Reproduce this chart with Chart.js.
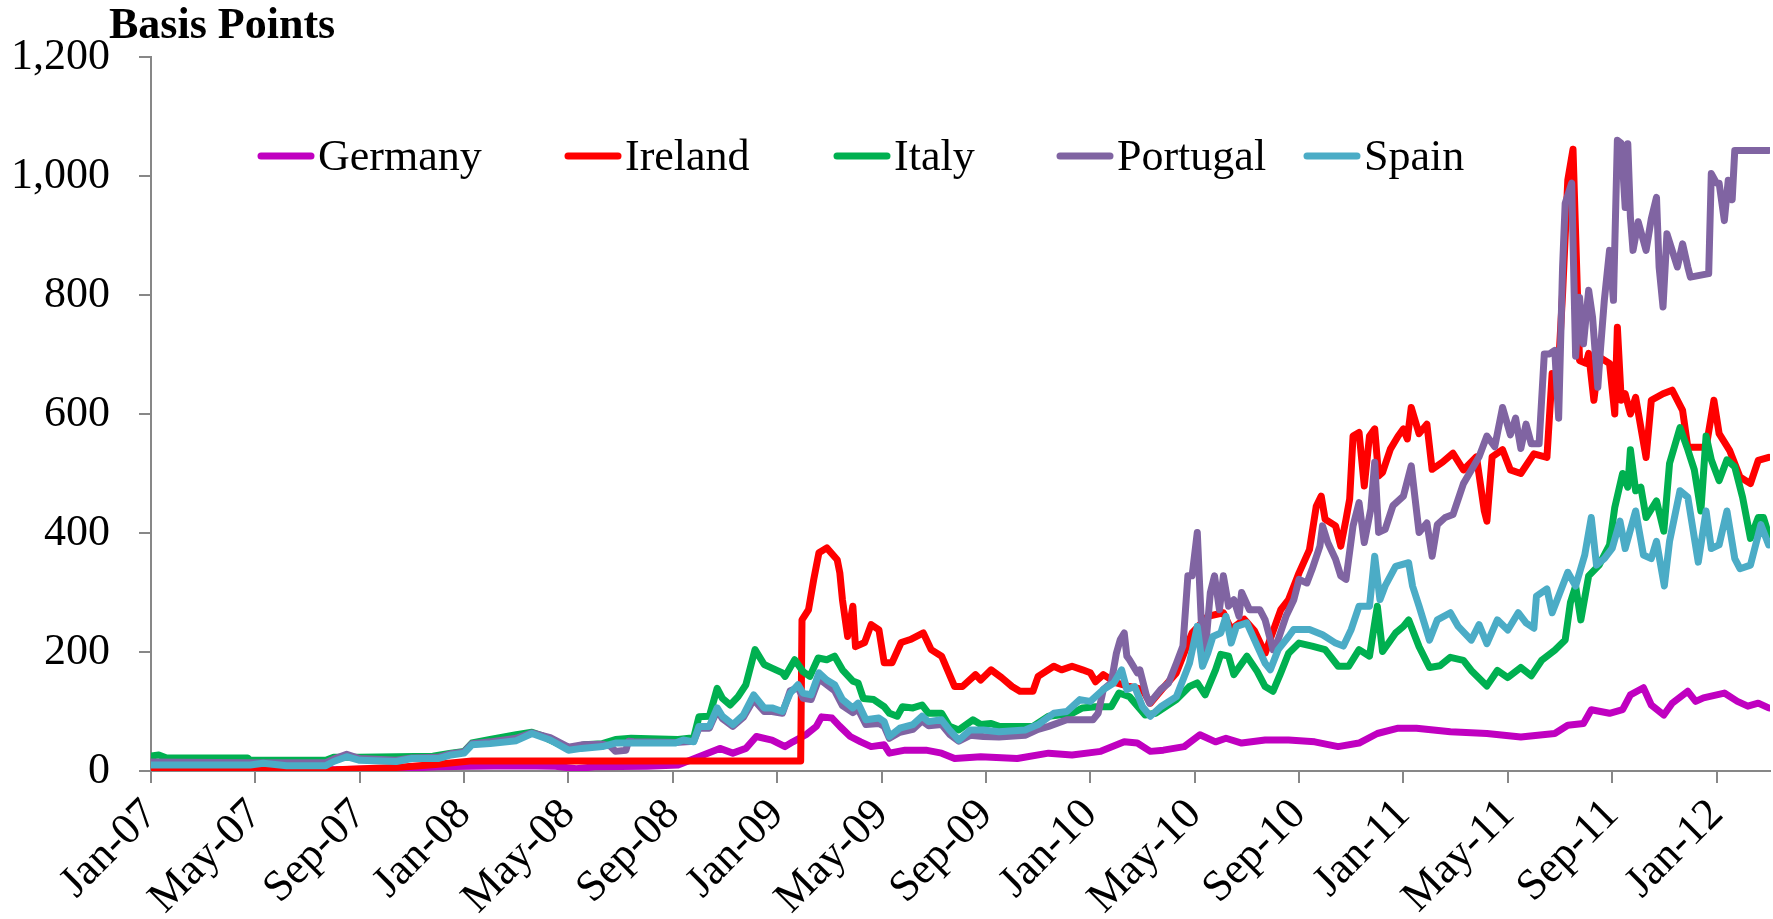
<!DOCTYPE html>
<html>
<head>
<meta charset="utf-8">
<title>Sovereign CDS spreads</title>
<script src="https://cdn.jsdelivr.net/npm/chart.js@4.4.1/dist/chart.umd.min.js"></script>
<style>
  html, body { margin: 0; padding: 0; background: #fff; }
  #wrap { width: 1773px; height: 919px; }
</style>
</head>
<body>
<div id="wrap"><canvas id="cds" width="1773" height="919"></canvas></div>
<script>
// x = months since Jan-07 (0 = start of Jan 2007), y = basis points
const monthNames = ['Jan', 'Feb', 'Mar', 'Apr', 'May', 'Jun', 'Jul', 'Aug', 'Sep', 'Oct', 'Nov', 'Dec'];
const tickMonths = [0, 4, 8, 12, 16, 20, 24, 28, 32, 36, 40, 44, 48, 52, 56, 60];
const yTicks = [0, 200, 400, 600, 800, 1000, 1200];
const seriesNames = ['Germany', 'Ireland', 'Italy', 'Portugal', 'Spain'];
const seriesColors = ['#C000C0', '#FF0000', '#00B050', '#8064A2', '#4BACC6'];

const germany = [
  [0,2],[3,2],[7,2],[9.4,4],[11,7],[12.3,8],[14,9],[15.5,8],[16.3,4],[17,7],[19,8],[20.2,10],
  [21.0,24],[21.8,38],[22.3,30],[22.8,38],[23.2,58],[23.8,52],[24.3,41],[24.6,49],[25.1,61],[25.5,75],
  [25.7,91],[26.1,89],[26.4,75],[26.8,58],[27.2,49],[27.6,41],[28.1,44],[28.3,30],[28.9,35],[29.7,35],
  [30.3,30],[30.8,21],[31.8,24],[33.2,21],[34.4,30],[35.3,27],[36.4,33],[37.3,49],[37.8,47],[38.3,33],
  [38.8,35],[39.6,41],[40.2,61],[40.8,49],[41.2,55],[41.8,47],[42.7,52],[43.6,52],[44.6,49],[45.5,41],
  [46.3,47],[47.0,63],[47.8,72],[48.5,72],[49.8,66],[51.2,63],[52.5,57],[53.8,63],[54.3,77],[54.9,80],
  [55.2,103],[55.9,97],[56.4,103],[56.7,128],[57.2,140],[57.5,111],[57.98,94],[58.3,114],[58.9,134],
  [59.2,117],[59.5,123],[60.3,131],[60.8,117],[61.2,109],[61.6,114],[62.0,106]
];

const ireland = [
  [0,1],[3,1],[7.1,2],[9.4,6],[10.9,11],[12.3,17],[24.9,17],
  [24.95,254],[25.2,271],[25.4,322],[25.6,367],[25.9,375],[26.3,355],[26.4,333],[26.5,288],[26.7,226],
  [26.9,277],[27.0,209],[27.35,216],[27.6,246],[27.9,237],[28.1,182],[28.4,182],[28.75,216],[29.1,221],
  [29.6,232],[29.9,204],[30.3,193],[30.8,142],[31.1,142],[31.6,162],[31.8,153],[32.2,170],[32.6,157],
  [33.0,142],[33.3,134],[33.8,134],[34.0,159],[34.6,176],[34.9,170],[35.3,176],[35.7,170],[36.0,165],
  [36.2,150],[36.5,162],[37.0,148],[37.5,142],[38.0,137],[38.3,114],[38.8,140],[39.3,165],[39.9,232],
  [40.5,260],[41.1,266],[41.4,238],[41.9,255],[42.3,235],[42.7,198],[43.3,271],[43.6,288],[44.0,333],
  [44.4,372],[44.66,445],[44.85,462],[45.0,423],[45.4,412],[45.6,378],[45.8,423],[45.94,457],[46.07,563],
  [46.3,569],[46.5,479],[46.7,563],[46.9,575],[47.05,496],[47.2,502],[47.5,541],[47.8,563],[48.0,575],
  [48.15,558],[48.3,611],[48.6,567],[48.9,583],[49.1,507],[49.5,519],[49.9,534],[50.3,506],[50.8,528],
  [51.1,437],[51.2,420],[51.4,528],[51.8,540],[52.1,506],[52.5,500],[53.0,533],[53.5,527],[53.7,668],
  [53.9,645],[54.1,802],[54.3,993],[54.5,1045],[54.6,903],[54.75,690],[55.0,685],[55.1,702],[55.3,623],
  [55.5,696],[55.9,685],[56.1,600],[56.2,746],[56.35,623],[56.5,634],[56.7,600],[56.9,628],[57.3,527],
  [57.5,623],[57.95,634],[58.3,640],[58.7,606],[58.9,544],[59.6,544],[59.9,623],[60.1,567],[60.5,539],
  [60.9,494],[61.3,483],[61.6,522],[62.0,527]
];

const italy = [
  [0,25],[0.3,27],[0.6,22],[3.7,22],[3.8,18],[6.7,18],[7.0,23],[8,23],[10.8,25],[11.5,30],[12.0,33],
  [12.3,47],[13.0,53],[14.0,61],[14.6,65],[15.0,59],[15.3,52],[16.1,36],[16.6,44],[17.3,46],[17.8,53],
  [18.4,55],[20.2,53],[20.8,56],[21.0,91],[21.4,92],[21.7,139],[21.9,122],[22.2,111],[22.5,125],
  [22.8,145],[23.15,204],[23.5,179],[23.8,173],[24.2,165],[24.3,159],[24.67,187],[24.99,167],[25.25,159],
  [25.57,190],[25.9,187],[26.2,193],[26.5,170],[26.9,151],[27.1,148],[27.3,122],[27.7,120],[28.1,108],
  [28.3,97],[28.6,92],[28.8,108],[29.2,106],[29.55,111],[29.8,97],[30.3,97],[30.6,75],[30.96,69],
  [31.5,86],[31.8,78],[32.2,80],[32.5,75],[33.8,75],[34.4,92],[34.8,94],[35.3,97],[35.7,106],[36.2,108],
  [36.8,108],[37.1,131],[37.5,125],[38.1,94],[38.5,97],[39.3,120],[39.8,142],[40.1,148],[40.4,128],
  [40.8,170],[41.0,196],[41.3,193],[41.5,162],[42.0,193],[42.4,167],[42.7,142],[43.0,134],[43.3,165],
  [43.6,198],[44.0,215],[44.5,210],[45.0,204],[45.5,176],[45.9,176],[46.3,204],[46.7,193],[47.0,277],
  [47.2,201],[47.7,232],[48.0,243],[48.2,254],[48.6,209],[49.0,174],[49.4,177],[49.8,191],[50.3,186],
  [50.6,169],[51.2,143],[51.6,169],[52.0,157],[52.5,174],[52.9,160],[53.3,186],[53.8,203],[54.2,220],
  [54.4,283],[54.6,311],[54.8,254],[55.1,328],[55.5,346],[55.9,380],[56.1,443],[56.4,500],[56.6,477],
  [56.7,540],[56.9,471],[57.1,477],[57.3,426],[57.7,454],[57.98,403],[58.2,517],[58.6,577],[58.9,540],
  [59.15,506],[59.4,437],[59.6,563],[59.8,523],[60.1,488],[60.4,523],[60.7,511],[61.0,460],[61.3,391],
  [61.6,426],[61.8,426],[62.0,397]
];

const portugal = [
  [0,15],[3.8,14],[6.7,14],[7.0,20],[7.5,28],[8.0,21],[9.4,18],[10.0,22],[11.0,23],[11.5,29],[12.0,32],
  [12.3,46],[13.0,49],[14.0,55],[14.6,64],[15.3,56],[16.0,40],[16.5,44],[17.3,45],[17.6,42],[17.8,33],
  [18.2,35],[18.3,50],[18.5,49],[20.1,48],[20.8,50],[21.0,72],[21.4,72],[21.7,102],[21.9,88],[22.3,75],
  [22.7,90],[23.1,120],[23.5,100],[23.8,100],[24.2,97],[24.5,135],[24.8,140],[25.0,122],[25.3,120],
  [25.6,155],[25.9,145],[26.2,135],[26.5,110],[26.9,98],[27.1,104],[27.4,78],[27.9,80],[28.1,75],
  [28.3,55],[28.7,65],[29.2,70],[29.55,84],[29.8,76],[30.3,78],[30.6,62],[30.96,50],[31.4,60],[31.9,58],
  [32.5,57],[33.5,60],[34.0,70],[34.4,75],[35.1,86],[36.1,86],[36.3,97],[36.5,137],[36.8,148],[37.0,198],
  [37.15,221],[37.3,232],[37.4,193],[37.5,187],[37.8,165],[37.9,170],[38.16,125],[38.27,114],[38.7,137],
  [39.0,148],[39.3,181],[39.55,210],[39.74,328],[39.9,328],[40.1,401],[40.25,254],[40.4,198],[40.6,300],
  [40.76,328],[40.95,271],[41.1,328],[41.3,277],[41.5,288],[41.7,260],[41.8,300],[42.1,271],[42.5,271],
  [42.7,254],[43.0,204],[43.2,221],[43.5,260],[43.8,288],[44.0,322],[44.3,316],[44.5,339],[44.8,378],
  [44.9,412],[45.1,384],[45.4,356],[45.6,328],[45.8,322],[46.07,412],[46.3,451],[46.5,384],[46.75,440],
  [46.9,519],[47.05,401],[47.3,406],[47.6,446],[48.0,462],[48.3,513],[48.45,457],[48.6,401],[48.9,417],
  [49.1,361],[49.3,414],[49.6,426],[49.9,431],[50.3,483],[50.9,528],[51.2,563],[51.5,545],[51.8,611],
  [52.1,565],[52.3,593],[52.5,542],[52.7,583],[52.9,550],[53.2,550],[53.4,701],[53.6,701],[53.8,707],
  [53.95,593],[54.1,847],[54.2,954],[54.45,988],[54.6,697],[54.75,796],[54.9,718],[55.1,808],[55.25,762],
  [55.45,645],[55.55,707],[55.7,791],[55.9,875],[56.05,791],[56.2,1060],[56.35,1055],[56.5,947],
  [56.6,1054],[56.7,931],[56.8,875],[57.0,923],[57.3,875],[57.5,928],[57.7,964],[57.8,847],[57.95,780],
  [58.1,903],[58.3,875],[58.5,847],[58.7,886],[58.9,847],[59.0,830],[59.7,836],[59.8,1004],[60.0,988],
  [60.1,988],[60.3,925],[60.45,993],[60.6,960],[60.7,1043],[62.0,1043]
];

const spain = [
  [0,10],[3.8,10],[4.3,13],[5.2,9],[6.7,9],[7.0,16],[7.5,24],[8.0,18],[9.4,16],[10.0,21],[11.0,21],
  [11.5,27],[12.0,30],[12.3,44],[13.0,46],[14.0,51],[14.6,63],[15.3,52],[16.0,35],[16.5,38],[17.3,41],
  [17.8,47],[18.5,47],[20.1,47],[20.4,52],[20.8,49],[21.0,75],[21.4,75],[21.7,106],[21.9,92],[22.3,78],
  [22.7,94],[23.1,128],[23.5,106],[23.8,106],[24.2,100],[24.5,131],[24.8,145],[24.99,131],[25.3,128],
  [25.6,165],[25.9,153],[26.2,145],[26.5,120],[26.9,106],[27.1,114],[27.4,86],[27.9,89],[28.1,83],
  [28.3,58],[28.7,72],[29.2,78],[29.55,92],[29.8,83],[30.3,86],[30.6,69],[30.96,52],[31.4,69],[31.9,69],
  [32.5,66],[33.5,69],[34.0,78],[34.6,97],[35.1,100],[35.6,120],[36.0,117],[36.5,137],[36.9,148],
  [37.2,170],[37.4,137],[37.7,142],[38.0,108],[38.3,92],[38.7,108],[39.3,125],[39.8,181],[40.1,243],
  [40.3,176],[40.5,198],[40.7,226],[41.0,232],[41.2,260],[41.4,215],[41.6,243],[42.0,249],[42.4,210],
  [42.7,181],[42.9,170],[43.2,204],[43.6,226],[43.8,238],[44.4,238],[44.9,229],[45.4,215],[45.7,210],
  [46.0,238],[46.3,277],[46.7,277],[46.9,361],[47.1,288],[47.3,311],[47.7,344],[48.2,350],[48.35,311],
  [48.6,277],[49.0,220],[49.3,254],[49.8,266],[50.1,243],[50.6,220],[50.9,246],[51.2,214],[51.6,254],
  [52.0,237],[52.4,266],[52.7,249],[53.0,240],[53.1,294],[53.5,306],[53.7,266],[54.3,334],[54.6,311],
  [54.95,363],[55.2,426],[55.4,346],[55.7,357],[56.0,374],[56.3,420],[56.5,374],[56.9,437],[57.2,363],
  [57.5,357],[57.7,386],[58.0,311],[58.2,386],[58.6,471],[58.9,460],[59.3,351],[59.6,437],[59.8,374],
  [60.1,380],[60.4,437],[60.7,357],[60.9,340],[61.3,346],[61.7,414],[62.0,380]
];

const seriesData = [germany, ireland, italy, portugal, spain];

const fontFamily = "'Liberation Serif', 'Times New Roman', serif";
const axisGray = '#878787';

function monthLabel(m) {
    const yr = 7 + Math.floor(m / 12);
    return monthNames[m % 12] + '-' + String(yr).padStart(2, '0');
}

function withCommas(n) {
    return String(n).replace(/\B(?=(\d{3})+(?!\d))/g, ',');
}

// where each legend entry starts, measured from the left of the plot area
const legendOffsets = [107, 414, 683, 906, 1153];

const textOverlay = {
    id: 'textOverlay',
    afterDraw(chart) {
        const { ctx, chartArea } = chart;
        ctx.save();
        ctx.fillStyle = '#000';
        ctx.textAlign = 'left';
        ctx.textBaseline = 'alphabetic';
        ctx.font = 'bold 44px ' + fontFamily;
        ctx.fillText('Basis Points', chartArea.left - 42, 38);

        ctx.font = '44px ' + fontFamily;
        const y = chartArea.top + 99;
        chart.data.datasets.forEach((ds, i) => {
            const x0 = chartArea.left + legendOffsets[i];
            ctx.strokeStyle = ds.borderColor;
            ctx.lineWidth = 7;
            ctx.lineCap = 'round';
            ctx.beginPath();
            ctx.moveTo(x0 + 3, y);
            ctx.lineTo(x0 + 53, y);
            ctx.stroke();
            ctx.fillText(ds.label, x0 + 60, y + 14);
        });
        ctx.restore();
    }
};

const datasets = seriesNames.map((name, i) => ({
    label: name,
    data: seriesData[i].map(p => ({ x: p[0], y: p[1] })),
    borderColor: seriesColors[i],
    backgroundColor: seriesColors[i],
    borderWidth: 7,
    borderJoinStyle: 'round',
    borderCapStyle: 'round',
    pointRadius: 0,
    tension: 0,
    fill: false,
    order: seriesNames.length - i   // Spain ends up on top, Germany underneath
}));

new Chart(document.getElementById('cds'), {
    type: 'line',
    data: { datasets: datasets },
    options: {
        responsive: false,
        animation: false,
        devicePixelRatio: 1,
        layout: { padding: { top: 57, right: 3, left: 0, bottom: 0 } },
        plugins: {
            legend: { display: false },
            tooltip: { enabled: false },
            title: { display: false }
        },
        scales: {
            x: {
                type: 'linear',
                min: 0,
                max: 62.05,
                afterBuildTicks: (axis) => { axis.ticks = tickMonths.map(v => ({ value: v })); },
                afterFit: (scale) => { scale.height = 148; },
                ticks: {
                    callback: (v) => monthLabel(v),
                    maxRotation: 45,
                    minRotation: 45,
                    padding: 6,
                    color: '#000',
                    font: { family: fontFamily, size: 44 }
                },
                grid: { drawOnChartArea: false, drawTicks: true, tickLength: 12, color: axisGray, lineWidth: 2 },
                border: { display: true, color: axisGray, width: 2 }
            },
            y: {
                min: 0,
                max: 1200,
                afterBuildTicks: (axis) => { axis.ticks = yTicks.map(v => ({ value: v })); },
                afterFit: (scale) => { scale.width = 151; },
                ticks: {
                    callback: (v) => withCommas(v),
                    padding: 29,
                    color: '#000',
                    font: { family: fontFamily, size: 44 }
                },
                grid: { drawOnChartArea: false, drawTicks: true, tickLength: 12, color: axisGray, lineWidth: 2 },
                border: { display: true, color: axisGray, width: 2 }
            }
        }
    },
    plugins: [textOverlay]
});
</script>
</body>
</html>
